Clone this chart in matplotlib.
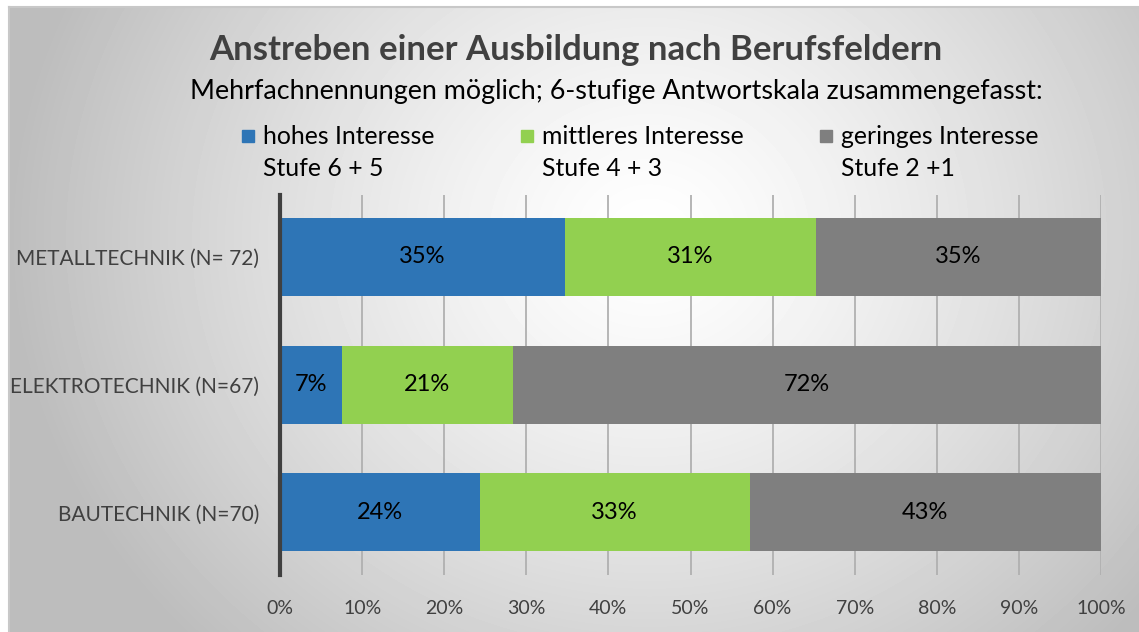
import numpy as np
import matplotlib
matplotlib.use("Agg")
import matplotlib.pyplot as plt
from matplotlib.patches import Rectangle

plt.rcParams["font.family"] = ["Lato", "DejaVu Sans"]

categories = ["METALLTECHNIK (N= 72)", "ELEKTROTECHNIK (N=67)", "BAUTECHNIK (N=70)"]
hohes = [34.7, 7.5, 24.3]
mittleres = [30.6, 20.9, 32.9]
geringes = [34.7, 71.6, 42.8]
bar_labels = [["35%", "31%", "35%"], ["7%", "21%", "72%"], ["24%", "33%", "43%"]]

series_names = ["hohes Interesse", "mittleres Interesse", "geringes Interesse"]
series_sub = ["Stufe 6 + 5", "Stufe 4 + 3", "Stufe 2 +1"]
colors = ["#2e75b6", "#92d050", "#7f7f7f"]
xticks = list(range(0, 101, 10))

W, H = 1139, 632
fig = plt.figure(figsize=(W / 100, H / 100), dpi=100)
fig.patch.set_facecolor("white")

# background: radial grey gradient
bg = fig.add_axes([9 / W, 0, 1 - 9 / W, (H - 7) / H])
yy, xx = np.mgrid[0:625, 0:1130]
r = np.sqrt(((xx - 640) / 1.0) ** 2 + ((yy - 230) / 0.9) ** 2)
val = 1.0 - 0.26 * np.clip(r / 640, 0, 1) ** 1.3
bg.imshow(val, cmap="gray", vmin=0, vmax=1, aspect="auto", interpolation="bilinear")
bg.set_axis_off()
fig.add_artist(plt.Line2D([9 / W, 1], [(H - 7) / H] * 2, color="#c8c8c8", lw=1.5))
fig.add_artist(plt.Line2D([9 / W] * 2, [0, (H - 7) / H], color="#c8c8c8", lw=1.5))

ax = fig.add_axes([280 / W, (H - 575) / H, 821 / W, 380 / H])
ax.patch.set_alpha(0)
y = np.arange(len(categories))
left = np.zeros(len(categories))
for vals, col in zip([hohes, mittleres, geringes], colors):
    ax.barh(y, vals, left=left, height=0.61, color=col, zorder=3)
    left = left + np.array(vals)

starts = np.zeros(len(categories))
for k, vals in enumerate([hohes, mittleres, geringes]):
    for i, v in enumerate(vals):
        ax.text(starts[i] + v / 2, y[i], bar_labels[i][k], ha="center", va="center",
                fontsize=17, color="black", zorder=4)
    starts = starts + np.array(vals)

ax.set_xlim(0, 100)
ax.set_ylim(2.49, -0.485)
ax.set_xticks(xticks)
ax.set_xticklabels([f"{t}%" for t in xticks], fontsize=14, color="#404040")
ax.set_yticks(y)
ax.set_yticklabels(categories, fontsize=15, color="#404040")
ax.tick_params(axis="both", length=0)
ax.tick_params(axis="x", pad=18)
ax.tick_params(axis="y", pad=15)
for t in xticks[1:]:
    ax.axvline(t, color="#b0b0b0", lw=1.3, zorder=1)
for s in ["top", "right", "bottom"]:
    ax.spines[s].set_visible(False)
ax.spines["left"].set_color("#404040")
ax.spines["left"].set_linewidth(3)
ax.spines["left"].set_zorder(5)

fig.text(576 / W, 1 - 50 / H, "Anstreben einer Ausbildung nach Berufsfeldern", ha="center",
         va="center", fontsize=25, fontweight="bold", color="#404040")
fig.text(616 / W, 1 - 92 / H, "Mehrfachnennungen möglich; 6-stufige Antwortskala zusammengefasst:",
         ha="center", va="center", fontsize=19.4, color="black")

leg_x = [242, 521, 820]
for lx, name, sub, col in zip(leg_x, series_names, series_sub, colors):
    fig.add_artist(Rectangle((lx / W, 1 - 142 / H), 12 / W, 12 / H, color=col,
                             transform=fig.transFigure))
    fig.text((lx + 21) / W, 1 - 137 / H, name, ha="left", va="center", fontsize=17.8, color="black")
    fig.text((lx + 21) / W, 1 - 168 / H, sub, ha="left", va="center", fontsize=17.8, color="black")

fig.savefig("out.png", dpi=100)
